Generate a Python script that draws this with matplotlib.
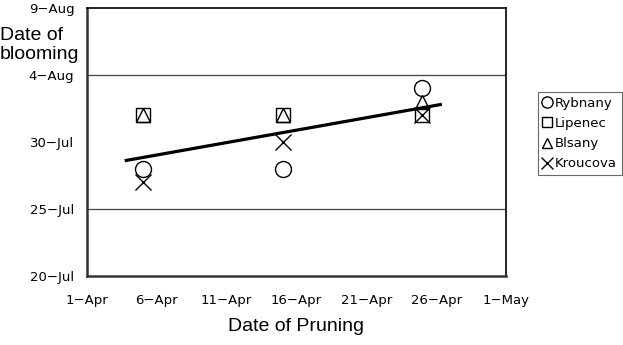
import matplotlib
matplotlib.use("Agg")
import matplotlib.pyplot as plt
import matplotlib.dates as mdates
import pandas as pd

# pruning dates and blooming dates per site
prune_dates = ["2009-04-05", "2009-04-15", "2009-04-25"]
rybnany = ["2009-07-28", "2009-07-28", "2009-08-03"]
lipenec = ["2009-08-01", "2009-08-01", "2009-08-01"]
blsany = ["2009-08-01", "2009-08-01", "2009-08-02"]
kroucova = ["2009-07-27", "2009-07-30", "2009-08-01"]

# trend line
trend_x = ["2009-04-03 19:30", "2009-04-26 07:00"]
trend_y = ["2009-07-28 15:00", "2009-08-01 19:00"]

x_ticks = pd.date_range("2009-04-01", "2009-05-01", freq="5D")
y_ticks = pd.date_range("2009-07-20", "2009-08-09", freq="5D")
grid_dates = ["2009-07-25", "2009-08-04"]

tick_font = "DejaVu Sans"
label_font = "Liberation Sans"

def fmt(v, pos=None):
    d = mdates.num2date(v)
    return f"{d.day}\u2212{d.strftime('%b')}"

fig = plt.figure(figsize=(6.23, 3.45), dpi=100)
ax = fig.add_axes([87 / 623, 1 - 276 / 345, (506 - 87) / 623, (276 - 8) / 345])

px = pd.to_datetime(prune_dates)
series = [
    ("Rybnany", rybnany, "o", 11.5),
    ("Lipenec", lipenec, "s", 9.5),
    ("Blsany", blsany, "^", 9.5),
    ("Kroucova", kroucova, "x", 12),
]
for name, vals, m, ms in series:
    ax.plot(px, pd.to_datetime(vals), linestyle="none", marker=m, ms=ms,
            mfc="none", mec="black", mew=1.0, label=name, zorder=3)

ax.plot(pd.to_datetime(trend_x), pd.to_datetime(trend_y), color="black", lw=2.3, zorder=4)

for g in grid_dates:
    ax.axhline(pd.to_datetime(g), color="#444444", lw=0.9, zorder=1)

ax.set_xlim(x_ticks[0], x_ticks[-1])
ax.set_ylim(y_ticks[0], y_ticks[-1])
ax.set_xticks(x_ticks)
ax.set_yticks(y_ticks)
ax.xaxis.set_major_formatter(plt.FuncFormatter(fmt))
ax.yaxis.set_major_formatter(plt.FuncFormatter(fmt))
ax.tick_params(axis="both", length=0, labelsize=9.5)
ax.tick_params(axis="y", pad=9)
ax.tick_params(axis="x", pad=13)
for lab in ax.get_xticklabels() + ax.get_yticklabels():
    lab.set_fontfamily(tick_font)

for s in ["top", "right"]:
    ax.spines[s].set_linewidth(1.2)
for s in ["left", "bottom"]:
    ax.spines[s].set_linewidth(1.8)
    ax.spines[s].set_color("#333333")

ax.set_xlabel("Date of Pruning", fontsize=14, fontfamily=label_font, labelpad=8)
fig.text(0.0, 1 - 45 / 345, "Date of\nblooming", fontsize=14, fontfamily=label_font,
         ha="left", va="center", linespacing=1.15)

leg = fig.legend(loc="upper left", bbox_to_anchor=(538 / 623, 1 - 92 / 345),
                 frameon=True, fancybox=False, edgecolor="#444444",
                 prop={"family": tick_font, "size": 9.5}, markerscale=0.7,
                 handlelength=0.6, handletextpad=0.35, borderpad=0.35,
                 labelspacing=0.55, borderaxespad=0)
leg.get_frame().set_linewidth(0.8)

fig.savefig("out.png", dpi=100)
